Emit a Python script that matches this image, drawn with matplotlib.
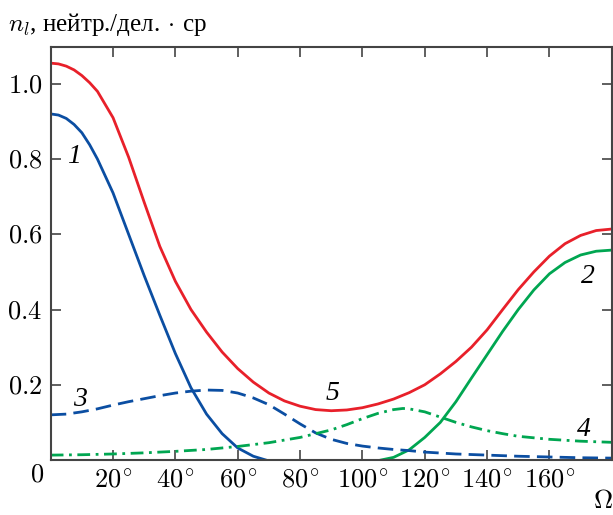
import matplotlib
matplotlib.use('Agg')
import matplotlib.pyplot as plt
import numpy as np

plt.rcParams['mathtext.fontset'] = 'cm'
plt.rcParams['font.family'] = ['Liberation Serif', 'DejaVu Serif']

# curve 5 (red, total)
ang5 = [0, 2.5, 5, 7.5, 10, 12.5, 15, 20, 25, 30, 35, 40, 45, 50, 55, 60, 65, 70, 75, 80,
        85, 90, 95, 100, 105, 110, 115, 120, 125, 130, 135, 140, 145, 150, 155, 160, 165,
        170, 175, 180]
n5 = [1.055, 1.053, 1.047, 1.037, 1.022, 1.003, 0.98, 0.91, 0.805, 0.685, 0.568, 0.475,
      0.4, 0.34, 0.287, 0.243, 0.207, 0.178, 0.157, 0.143, 0.134, 0.131, 0.133, 0.139,
      0.149, 0.162, 0.179, 0.2, 0.229, 0.262, 0.3, 0.346, 0.4, 0.453, 0.5, 0.542, 0.575,
      0.597, 0.61, 0.614]

# curve 1 (blue solid)
ang1 = [0, 2.5, 5, 7.5, 10, 12.5, 15, 20, 25, 30, 35, 40, 45, 50, 55, 60, 65, 69]
n1 = [0.92, 0.917, 0.908, 0.892, 0.87, 0.838, 0.8, 0.71, 0.6, 0.49, 0.385, 0.283, 0.192,
      0.122, 0.07, 0.032, 0.01, 0.0]

# curve 2 (green solid)
ang2 = [106, 110, 115, 120, 125, 130, 135, 140, 145, 150, 155, 160, 165, 170, 175, 180]
n2 = [0.0, 0.007, 0.027, 0.06, 0.1, 0.155, 0.218, 0.28, 0.342, 0.4, 0.452, 0.495, 0.525,
      0.545, 0.555, 0.558]

# curve 3 (blue dashed)
ang3 = [0, 5, 10, 15, 20, 25, 30, 35, 40, 45, 50, 55, 60, 65, 70, 75, 80, 85, 90, 95,
        100, 105, 110, 115, 120, 130, 140, 150, 160, 170, 180]
n3 = [0.12, 0.122, 0.128, 0.136, 0.146, 0.155, 0.163, 0.171, 0.178, 0.183, 0.186, 0.185,
      0.178, 0.165, 0.147, 0.122, 0.096, 0.072, 0.055, 0.044, 0.037, 0.032, 0.028, 0.025,
      0.021, 0.016, 0.013, 0.01, 0.008, 0.006, 0.005]

# curve 4 (green dash-dot)
ang4 = [0, 10, 20, 30, 40, 50, 60, 70, 80, 85, 90, 95, 100, 105, 110, 113, 115, 120,
        125, 130, 135, 140, 145, 150, 160, 170, 180]
n4 = [0.013, 0.014, 0.016, 0.019, 0.023, 0.028, 0.036, 0.046, 0.06, 0.07, 0.08, 0.094,
      0.11, 0.124, 0.134, 0.137, 0.136, 0.128, 0.114, 0.1, 0.088, 0.078, 0.07, 0.063,
      0.055, 0.05, 0.047]

xticks = [20, 40, 60, 80, 100, 120, 140, 160]
yticks = [0.2, 0.4, 0.6, 0.8, 1.0]

red, blue, green = '#e8202a', '#0b4ea2', '#00a651'

fig = plt.figure(figsize=(6.13, 5.15), dpi=100)
ax = fig.add_axes([0.0827, 0.1068, 0.9153, 0.802])

lw = 2.0
ax.plot(ang5, n5, color=red, lw=lw)
ax.plot(ang1, n1, color=blue, lw=lw)
ax.plot(ang2, n2, color=green, lw=lw)
ax.plot(ang3, n3, color=blue, lw=lw, dashes=(5.6, 2.6))
ax.plot(ang4, n4, color=green, lw=lw, dashes=(4.6, 2.0, 1.0, 2.0))

ax.set_xlim(0, 180)
ax.set_ylim(0, 1.098)
ax.set_xticks(xticks)
ax.set_xticklabels([r'$%d^{\!\circ}$' % t for t in xticks])
ax.set_yticks(yticks)
ax.set_yticklabels([r'$%.1f$' % t for t in yticks])
ax.tick_params(direction='in', length=7, width=1.2, color='#444444',
               top=True, right=True, labelsize=19, pad=6)
for s in ax.spines.values():
    s.set_color('#444444')
    s.set_linewidth(1.5)

# corner zero and axis titles
fig.text(37 / 613, 1 - 476 / 515, r'$0$', fontsize=19, ha='center', va='center')
fig.text(603 / 613, 1 - 502 / 515, r'$\Omega$', fontsize=19, ha='center', va='center')
fig.text(8 / 613, 1 - 24 / 515, r'$n_l$, нейтр./дел.$\,\cdot\,$ср', fontsize=18,
         ha='left', va='center')

# curve numbers
for lab, x, y in [('1', 7.5, 0.806), ('2', 172.2, 0.487), ('3', 9.4, 0.16),
                  ('4', 170.9, 0.08), ('5', 90.3, 0.178)]:
    ax.text(x, y, lab, fontsize=20, fontstyle='italic', ha='center', va='center')

fig.savefig('out.png', dpi=100)
